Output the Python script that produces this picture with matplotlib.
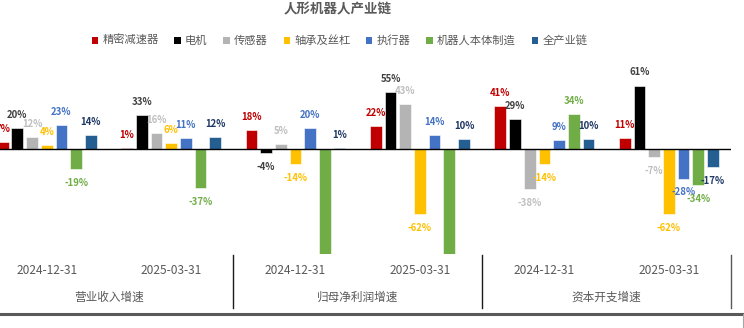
import matplotlib
matplotlib.use("Agg")
import matplotlib.pyplot as plt
from matplotlib.transforms import blended_transform_factory
from matplotlib.lines import Line2D
from matplotlib.patches import Patch

plt.rcParams['font.family'] = ['Noto Sans CJK SC', 'DejaVu Sans']

title = "人形机器人产业链"
dates = ["2024-12-31", "2025-03-31", "2024-12-31", "2025-03-31", "2024-12-31", "2025-03-31"]
groups = ["营业收入增速", "归母净利润增速", "资本开支增速"]
series_names = ["精密减速器", "电机", "传感器", "轴承及丝杠", "执行器", "机器人本体制造", "全产业链"]

reducer = [7, 1, 18, 22, 41, 11]
motor = [20, 33, -4, 55, 29, 61]
sensor = [12, 16, 5, 43, -38, -7]
bearing = [4, 6, -14, -62, -14, -62]
actuator = [23, 11, 20, 14, 9, -28]
body = [-19, -37, -130, -120, 34, -34]   # 归母净利润 values run off the chart (clipped)
chain = [14, 12, 1, 10, 10, -17]

series_values = [reducer, motor, sensor, bearing, actuator, body, chain]
bar_colors = ["#C00000", "#000000", "#B4B4B4", "#FFC000", "#4472C4", "#70AD47", "#255E91"]
label_colors = ["#C00000", "#404040", "#BFBFBF", "#FFC000", "#4472C4", "#70AD47", "#1F3864"]

W, H = 744, 328
fig = plt.figure(figsize=(W / 100, H / 100), dpi=100)
fig.patch.set_facecolor("white")

ax_left_px, ax_right_px = -15.5, 731.0
ax_top_px, ax_bot_px = 65.7, 253.8
ax = fig.add_axes([ax_left_px / W, 1 - ax_bot_px / H,
                   (ax_right_px - ax_left_px) / W, (ax_bot_px - ax_top_px) / H])
ymin, ymax = -100, 80
ax.set_xlim(-0.5, 5.5)
ax.set_ylim(ymin, ymax)
for s in ax.spines.values():
    s.set_visible(False)
ax.set_xticks([])
ax.set_yticks([])

step = 0.118
bw = 0.094
n = len(series_values)
for k, (vals, c, lc, name) in enumerate(zip(series_values, bar_colors, label_colors, series_names)):
    xs = [i + (k - (n - 1) / 2) * step for i in range(len(vals))]
    ax.bar(xs, vals, width=bw, color=c, edgecolor="white", linewidth=0.4, label=name, zorder=2)
    for x, v in zip(xs, vals):
        if v < ymin or v > ymax:
            continue
        off = 9.4 if v >= 0 else -10.0
        ax.annotate(f"{v}%", (x, v), xytext=(0, off), textcoords="offset points",
                    ha="center", va="center", fontsize=6.9, fontweight="bold",
                    color=lc, annotation_clip=False, zorder=3)

ax.axhline(0, color="black", lw=1.0, zorder=4)

tr = blended_transform_factory(ax.transData, fig.transFigure)
for i, d in enumerate(dates):
    ax.text(i, 1 - 271 / H, d, transform=tr, ha="center", va="center",
            fontsize=8.6, color="#595959")
for g, name in enumerate(groups):
    ax.text(2 * g + 0.5, 1 - 297.7 / H, name, transform=tr, ha="center", va="center",
            fontsize=8.4, color="#595959")
for xb in [-0.5, 1.5, 3.5, 5.5]:
    ax.add_line(Line2D([xb, xb], [1 - 255 / H, 1 - 307.5 / H], transform=tr,
                       color="#1a1a1a" if xb < 5 else "#595959", lw=1.0, clip_on=False))

fig.add_artist(Line2D([0, 1], [1 - 314 / H] * 2, transform=fig.transFigure,
                      color="#595959", lw=2.2))
fig.add_artist(Line2D([743.3 / W] * 2, [1 - 314 / H, 0], transform=fig.transFigure,
                      color="#A6A6A6", lw=0.8))

fig.text(337.5 / W, 1 - 9.2 / H, title, ha="center", va="center",
         fontsize=9.7, fontweight="bold", color="#595959")

handles = [Patch(facecolor=c, edgecolor="none") for c in bar_colors]
fig.legend(handles, series_names, loc="center", bbox_to_anchor=(339.5 / W, 1 - 40.7 / H),
           ncol=7, frameon=False, fontsize=8.1, labelcolor="#595959",
           handlelength=0.55, handleheight=0.55, handletextpad=0.4, columnspacing=1.4,
           borderpad=0, borderaxespad=0)

fig.savefig("out.png", dpi=100, facecolor="white")
